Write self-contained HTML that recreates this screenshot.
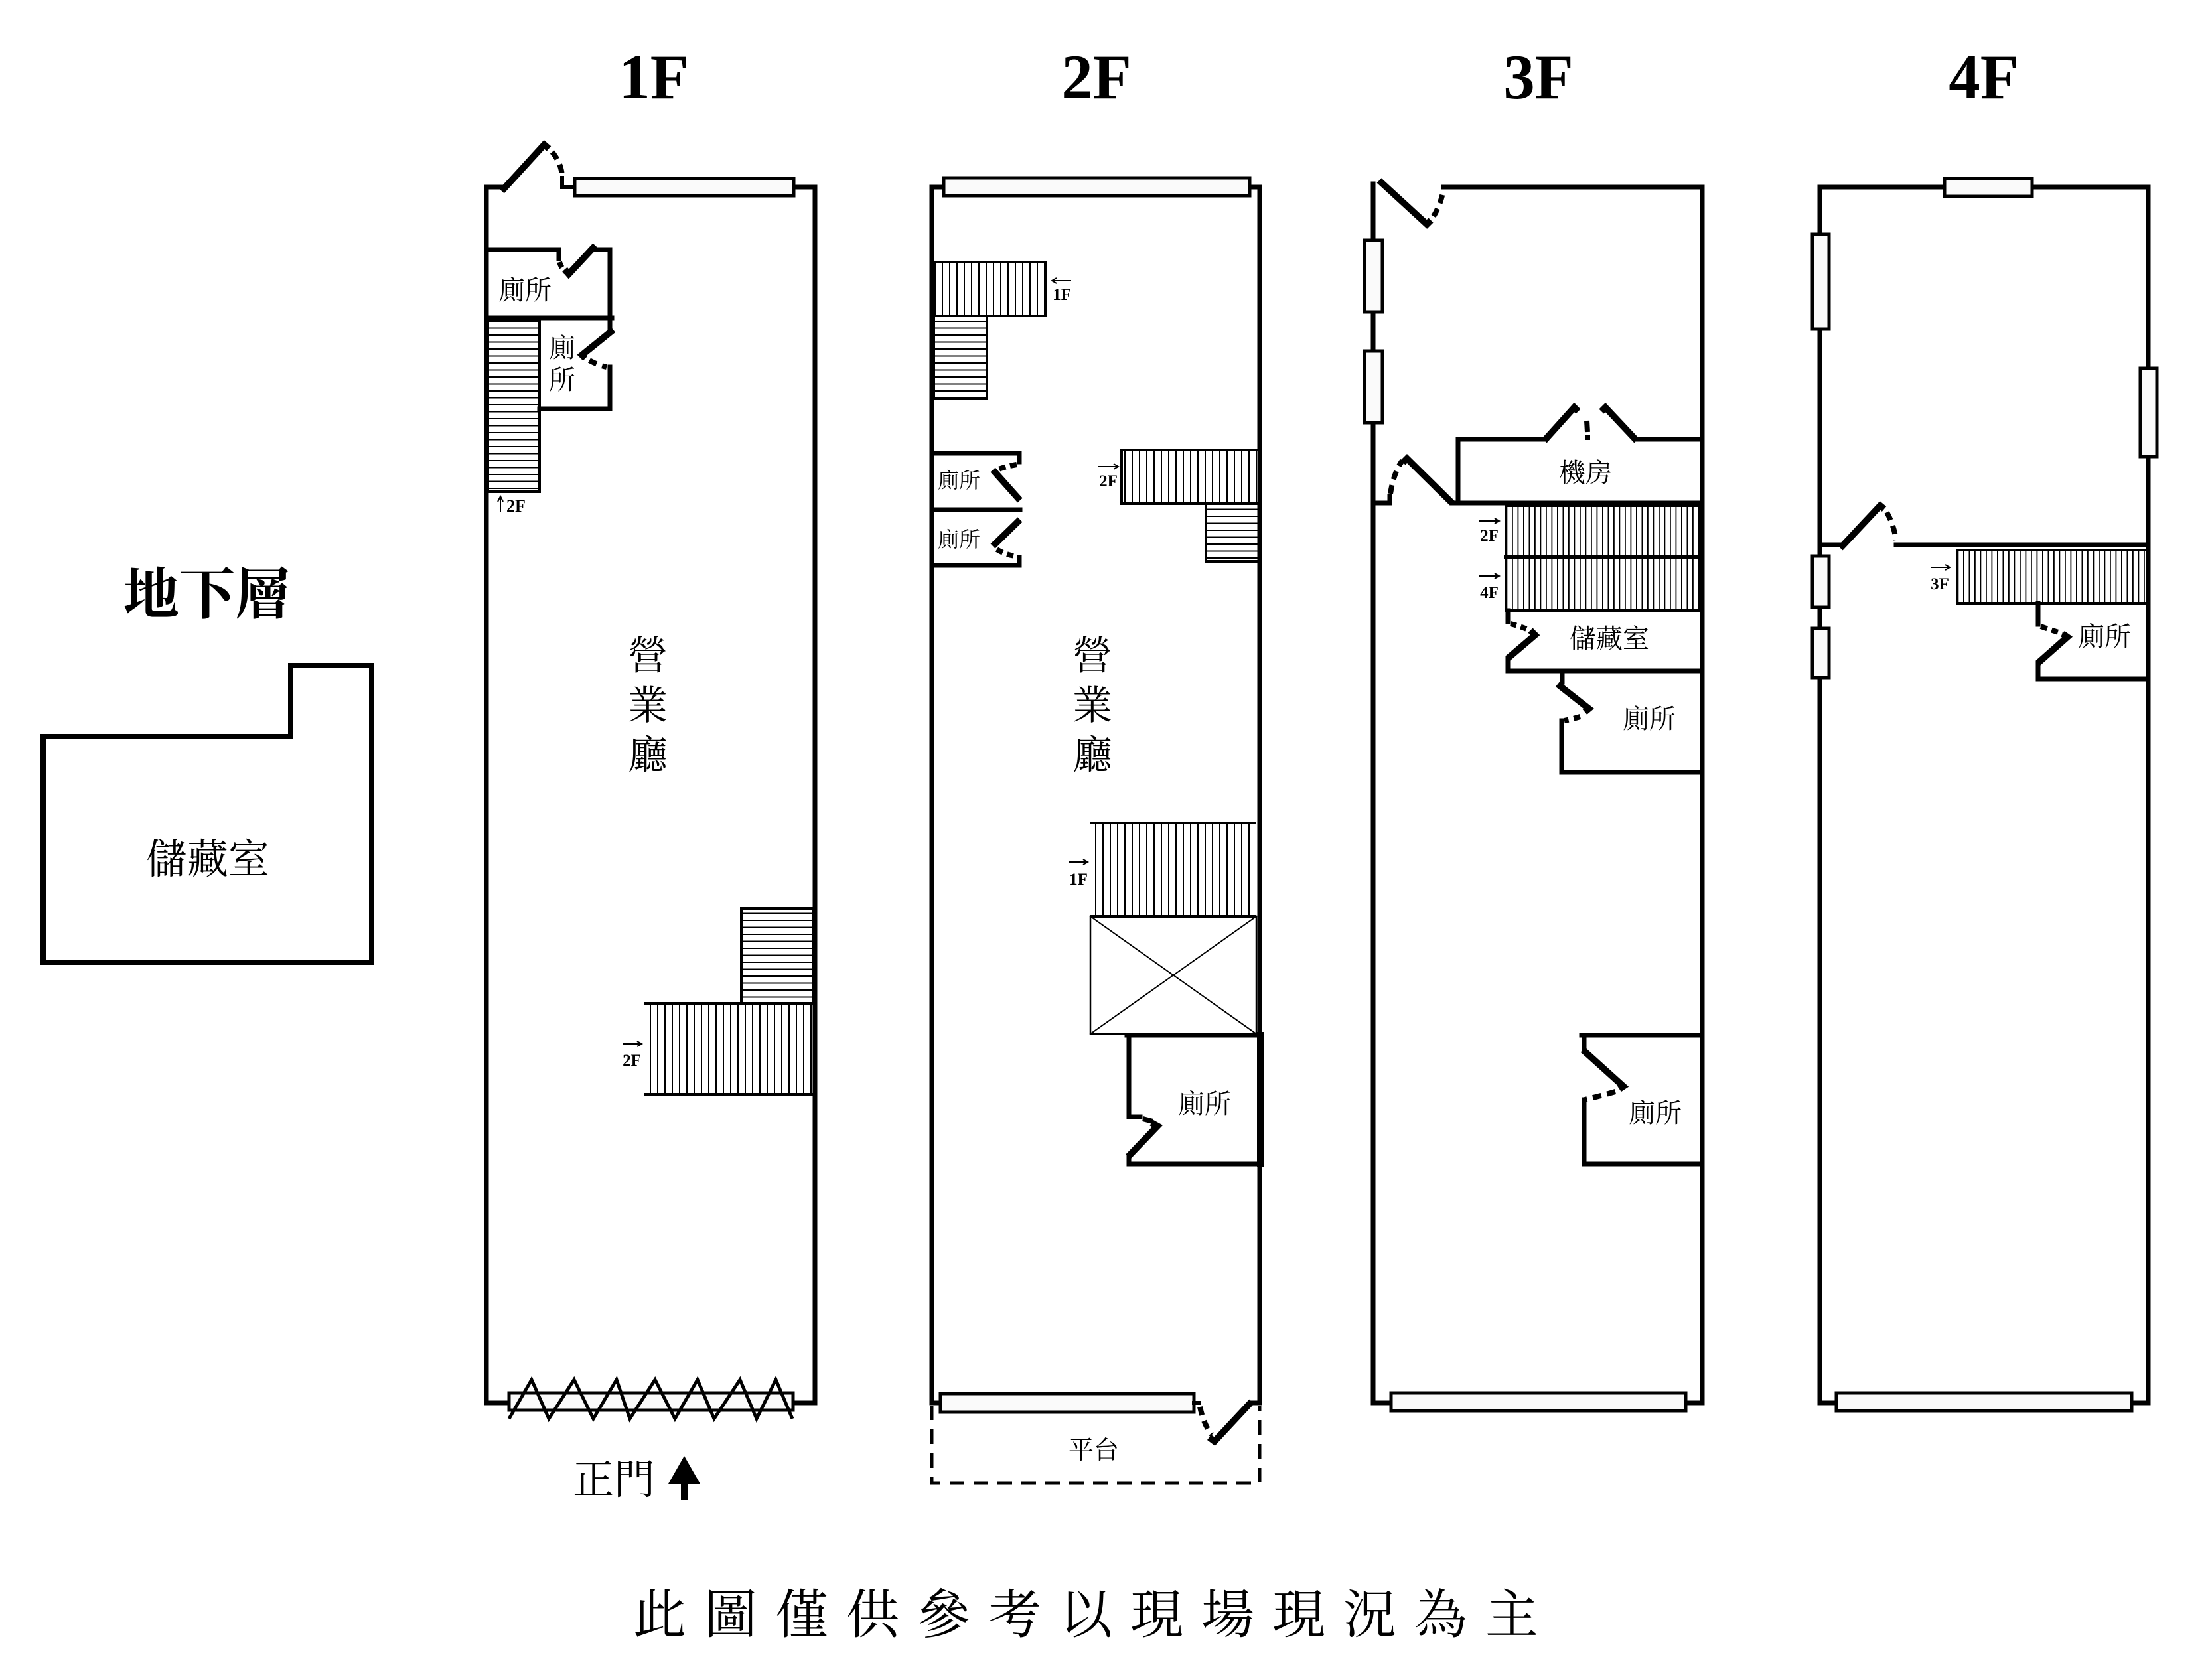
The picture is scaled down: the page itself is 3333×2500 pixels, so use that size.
<!DOCTYPE html>
<html><head><meta charset="utf-8">
<style>
html,body{margin:0;padding:0;background:#fff;}
svg{display:block;}
.t{font-family:"Liberation Serif","Noto Serif CJK SC",serif;fill:#000;stroke:none;}
.s{font-family:"Liberation Serif",serif;font-weight:bold;fill:#000;stroke:none;}
</style></head><body>
<svg width="3333" height="2500" viewBox="0 0 3333 2500" xmlns="http://www.w3.org/2000/svg">
<defs>
<pattern id="v11" patternUnits="userSpaceOnUse" width="11" height="20"><rect x="0" y="0" width="2" height="20" fill="#000"/></pattern>
<pattern id="h10" patternUnits="userSpaceOnUse" width="20" height="10.5"><rect x="0" y="0" width="20" height="2" fill="#000"/></pattern>
<pattern id="v8" patternUnits="userSpaceOnUse" width="8.5" height="20"><rect x="0" y="0" width="1.8" height="20" fill="#000"/></pattern>
</defs>
<rect width="3333" height="2500" fill="#fff"/>

<!-- Titles -->
<text class="s" x="985" y="148" font-size="95" text-anchor="middle">1F</text>
<text class="s" x="1652" y="148" font-size="95" text-anchor="middle">2F</text>
<text class="s" x="2318" y="148" font-size="95" text-anchor="middle">3F</text>
<text class="s" x="2989" y="148" font-size="95" text-anchor="middle">4F</text>

<g fill="none" stroke="#000" stroke-width="7" stroke-linejoin="miter" stroke-linecap="square">

<!-- ===== Basement ===== -->
<path d="M65 1110 H438 V1003 H560 V1450 H65 Z" stroke-width="8"/>

<!-- ===== 1F ===== -->
<path d="M756 282 H733 V2114 H767"/>
<path d="M1196 2114 H1228 V282 H1196"/>
<path d="M847 268 V282 H866" stroke-width="6"/>
<path d="M756 288 L820 218 L827 224" stroke-width="10" stroke-linecap="butt"/>
<path d="M832 229 Q846 246 847 266" stroke-width="8" stroke-dasharray="13 9" stroke-linecap="butt"/>
<rect x="866" y="269" width="330" height="26" fill="#fafafa" stroke-width="5"/>
<!-- toilets -->
<path d="M733 376 H842 V390"/>
<path d="M843 395 Q846 405 853 410" stroke-width="8" stroke-dasharray="9 6" stroke-linecap="butt"/>
<path d="M851 406 L857 413 L897 370" stroke-width="10" stroke-linecap="butt"/>
<path d="M899 376 H919 V497"/>
<path d="M733 479 H922"/>
<path d="M924 497 L877 535 L882 540" stroke-width="10" stroke-linecap="butt"/>
<path d="M888 543 Q900 550 914 553" stroke-width="8" stroke-dasharray="12 9" stroke-linecap="butt"/>
<path d="M919 553 V616 H813"/>
<rect x="735" y="482" width="78" height="259" fill="url(#h10)" stroke-width="4"/>
<!-- lower stairs -->
<rect x="1117" y="1369" width="108" height="143" fill="url(#h10)" stroke-width="4"/>
<rect x="973" y="1512" width="252" height="137" fill="url(#v11)" stroke="none"/>
<path d="M971 1512 H1225 M971 1649 H1225" stroke-width="4" stroke-linecap="butt"/>
<!-- main door -->
<rect x="767" y="2099" width="428" height="26" fill="#fafafa" stroke-width="5"/>
<polyline points="767,2138 801,2079 827,2138 865,2079 894,2138 929,2079 949,2138 987,2079 1017,2138 1051,2079 1076,2138 1115,2079 1140,2138 1169,2079 1194,2138" stroke-width="5" stroke-linecap="butt"/>

<!-- ===== 2F ===== -->
<path d="M1422 282 H1404 V2114 H1417"/>
<path d="M1883 282 H1898 V2114 H1884"/>
<rect x="1422" y="268" width="461" height="27" fill="#fafafa" stroke-width="5"/>
<rect x="1417" y="2100" width="382" height="28" fill="#fafafa" stroke-width="5"/>
<path d="M1799 2114 H1806" stroke-width="6"/>
<path d="M1808 2120 Q1814 2148 1826 2162" stroke-width="8" stroke-dasharray="13 9" stroke-linecap="butt"/>
<path d="M1822 2166 L1830 2172 L1886 2112" stroke-width="10" stroke-linecap="butt"/>
<path d="M1404 2118 V2235 H1898 V2118" stroke-width="5" stroke-dasharray="22 14" stroke-linecap="butt"/>
<!-- stairs A/B -->
<rect x="1407" y="395" width="168" height="81" fill="url(#v11)" stroke-width="4"/>
<rect x="1407" y="476" width="80" height="125" fill="url(#h10)" stroke-width="4"/>
<!-- toilets -->
<path d="M1404 683 H1536 V696"/>
<path d="M1532 700 Q1515 703 1502 708" stroke-width="8" stroke-dasharray="10 7" stroke-linecap="butt"/>
<path d="M1496 708 L1537 754" stroke-width="10" stroke-linecap="butt"/>
<path d="M1404 768 H1537"/>
<path d="M1537 783 L1496 823" stroke-width="10" stroke-linecap="butt"/>
<path d="M1502 828 Q1515 836 1530 838" stroke-width="8" stroke-dasharray="10 7" stroke-linecap="butt"/>
<path d="M1536 840 V852 H1404"/>
<!-- stairs C/D -->
<rect x="1690" y="678" width="207" height="81" fill="url(#v11)" stroke-width="4"/>
<rect x="1817" y="759" width="80" height="87" fill="url(#h10)" stroke-width="4"/>
<!-- stair E + void -->
<rect x="1645" y="1240" width="248" height="141" fill="url(#v11)" stroke="none"/>
<path d="M1643 1240 H1893 M1643 1381 H1893" stroke-width="4" stroke-linecap="butt"/>
<rect x="1643" y="1381" width="250" height="177" stroke-width="2.5"/>
<path d="M1643 1381 L1893 1558 M1893 1381 L1643 1558" stroke-width="2"/>
<!-- toilet lower 2F -->
<path d="M1698 1560 H1898"/>
<path d="M1701 1560 V1683 H1718"/>
<path d="M1722 1686 Q1730 1688 1737 1690" stroke-width="8" stroke-linecap="butt"/>
<path d="M1735 1692 L1744 1697 L1700 1743" stroke-width="10" stroke-linecap="butt"/>
<path d="M1701 1743 V1754 H1898"/>
<path d="M1899 1560 V1754" stroke-width="10"/>

<!-- ===== 3F ===== -->
<path d="M2069 277 V2114 H2096"/>
<path d="M2540 2114 H2565 V282 H2175"/>
<path d="M2078 272 L2150 338 L2156 332" stroke-width="10" stroke-linecap="butt"/>
<path d="M2160 326 Q2171 308 2175 286" stroke-width="8" stroke-dasharray="13 9" stroke-linecap="butt"/>
<rect x="2056" y="362" width="27" height="108" fill="#fafafa" stroke-width="5"/>
<rect x="2056" y="529" width="27" height="108" fill="#fafafa" stroke-width="5"/>
<path d="M2197 758 V662 H2329"/>
<path d="M2327 664 L2372 614 L2378 620" stroke-width="10" stroke-linecap="butt"/>
<path d="M2391 634 L2392 651" stroke-width="8" stroke-linecap="butt"/>
<rect x="2388" y="655" width="8" height="8" fill="#000" stroke="none"/>
<path d="M2413 620 L2419 614 L2466 664" stroke-width="10" stroke-linecap="butt"/>
<path d="M2466 662 H2565"/>
<path d="M2069 758 H2094 V748"/>
<path d="M2095 744 Q2100 712 2113 694" stroke-width="8" stroke-dasharray="13 9" stroke-linecap="butt"/>
<path d="M2114 697 L2120 691 L2188 758" stroke-width="10" stroke-linecap="butt"/>
<path d="M2188 758 H2565"/>
<rect x="2269" y="762" width="291" height="158" fill="url(#v8)" stroke-width="4"/>
<path d="M2269 839 H2560" stroke-width="6"/>
<path d="M2272 920 V937"/>
<path d="M2276 940 Q2292 944 2305 950" stroke-width="8" stroke-dasharray="9 7" stroke-linecap="butt"/>
<path d="M2306 950 L2313 957 L2272 992" stroke-width="10" stroke-linecap="butt"/>
<path d="M2272 992 V1011 H2565"/>
<path d="M2354 1011 V1028"/>
<path d="M2347 1031 L2394 1068 L2388 1073" stroke-width="10" stroke-linecap="butt"/>
<path d="M2381 1080 Q2368 1084 2357 1086" stroke-width="8" stroke-dasharray="10 8" stroke-linecap="butt"/>
<path d="M2353 1086 V1164 H2565"/>
<path d="M2383 1560 H2565"/>
<path d="M2387 1560 V1582"/>
<path d="M2385 1582 L2446 1637 L2440 1641" stroke-width="10" stroke-linecap="butt"/>
<path d="M2434 1645 Q2410 1652 2388 1657" stroke-width="8" stroke-dasharray="13 9" stroke-linecap="butt"/>
<path d="M2387 1657 V1754 H2565"/>
<rect x="2096" y="2099" width="444" height="27" fill="#fafafa" stroke-width="5"/>

<!-- ===== 4F ===== -->
<path d="M2767 2114 H2742 V282 H2930"/>
<path d="M3062 282 H3237 V2114 H3212"/>
<rect x="2930" y="269" width="132" height="27" fill="#fafafa" stroke-width="5"/>
<rect x="2731" y="353" width="25" height="143" fill="#fafafa" stroke-width="5"/>
<rect x="3225" y="555" width="25" height="133" fill="#fafafa" stroke-width="5"/>
<rect x="2731" y="838" width="25" height="77" fill="#fafafa" stroke-width="5"/>
<rect x="2731" y="947" width="25" height="74" fill="#fafafa" stroke-width="5"/>
<path d="M2742 821 H2773"/>
<path d="M2773 826 L2833 762 L2839 767" stroke-width="10" stroke-linecap="butt"/>
<path d="M2843 772 Q2854 792 2857 814" stroke-width="8" stroke-dasharray="13 9" stroke-linecap="butt"/>
<path d="M2857 821 H3237"/>
<rect x="2949" y="829" width="288" height="80" fill="url(#v8)" stroke-width="4"/>
<path d="M3071 909 V941"/>
<path d="M3075 944 Q3092 950 3108 955" stroke-width="8" stroke-dasharray="10 7" stroke-linecap="butt"/>
<path d="M3108 955 L3115 960 L3071 999" stroke-width="10" stroke-linecap="butt"/>
<path d="M3071 999 V1023 H3237"/>
<rect x="2767" y="2099" width="445" height="27" fill="#fafafa" stroke-width="5"/>

<!-- small arrows for stair labels -->
<g stroke-width="2" stroke-linecap="butt">
<path d="M754 772 V749 M750 756 L754 748 L758 756"/>
<path d="M938 1573 H966 M960 1569 L967 1573 L960 1577"/>
<path d="M1614 423 H1586 M1592 419 L1585 423 L1592 427"/>
<path d="M1655 703 H1684 M1678 699 L1685 703 L1678 707"/>
<path d="M1611 1299 H1638 M1632 1295 L1639 1299 L1632 1303"/>
<path d="M2229 785 H2258 M2252 781 L2259 785 L2252 789"/>
<path d="M2229 868 H2258 M2252 864 L2259 868 L2252 872"/>
<path d="M2909 855 H2937 M2931 851 L2938 855 L2931 859"/>
</g>
</g>

<!-- 1F main door arrow -->
<polygon points="1007,2236 1031,2194 1055,2236" fill="#000"/>
<rect x="1026" y="2234" width="10" height="26" fill="#000"/>

<!-- Stair labels -->
<text class="s" x="763" y="771" font-size="26">2F</text>
<text class="s" x="952" y="1606" font-size="25" text-anchor="middle">2F</text>
<text class="s" x="1600" y="452" font-size="25" text-anchor="middle">1F</text>
<text class="s" x="1670" y="733" font-size="25" text-anchor="middle">2F</text>
<text class="s" x="1625" y="1333" font-size="25" text-anchor="middle">1F</text>
<text class="s" x="2244" y="815" font-size="25" text-anchor="middle">2F</text>
<text class="s" x="2244" y="901" font-size="25" text-anchor="middle">4F</text>
<text class="s" x="2923" y="888" font-size="25" text-anchor="middle">3F</text>

<!-- Chinese labels -->
<text class="t" x="312" y="925" font-size="84" font-weight="bold" text-anchor="middle">地下層</text>
<text class="t" x="313" y="1316" font-size="62" text-anchor="middle">儲藏室</text>

<text class="t" x="791" y="451" font-size="40" text-anchor="middle">廁所</text>
<text class="t" x="847" y="538" font-size="40" text-anchor="middle">廁</text>
<text class="t" x="847" y="586" font-size="40" text-anchor="middle">所</text>

<text class="t" x="976" y="1009" font-size="60" text-anchor="middle">營</text>
<text class="t" x="976" y="1084" font-size="60" text-anchor="middle">業</text>
<text class="t" x="976" y="1159" font-size="60" text-anchor="middle">廳</text>
<text class="t" x="1646" y="1009" font-size="60" text-anchor="middle">營</text>
<text class="t" x="1646" y="1084" font-size="60" text-anchor="middle">業</text>
<text class="t" x="1646" y="1159" font-size="60" text-anchor="middle">廳</text>

<text class="t" x="925" y="2251" font-size="62" text-anchor="middle">正門</text>

<text class="t" x="1445" y="735" font-size="32" text-anchor="middle">廁所</text>
<text class="t" x="1445" y="824" font-size="32" text-anchor="middle">廁所</text>
<text class="t" x="1815" y="1677" font-size="40" text-anchor="middle">廁所</text>
<text class="t" x="1648" y="2198" font-size="38" text-anchor="middle">平台</text>

<text class="t" x="2389" y="726" font-size="40" text-anchor="middle">機房</text>
<text class="t" x="2425" y="976" font-size="40" text-anchor="middle">儲藏室</text>
<text class="t" x="2485" y="1097" font-size="40" text-anchor="middle">廁所</text>
<text class="t" x="2494" y="1691" font-size="40" text-anchor="middle">廁所</text>

<text class="t" x="3171" y="973" font-size="40" text-anchor="middle">廁所</text>

<!-- caption -->
<text class="t" y="2461" font-size="80" x="954 1061 1168 1275 1382 1489 1596 1703 1810 1917 2024 2131 2238">此圖僅供參考以現場現況為主</text>

</svg>
</body></html>
